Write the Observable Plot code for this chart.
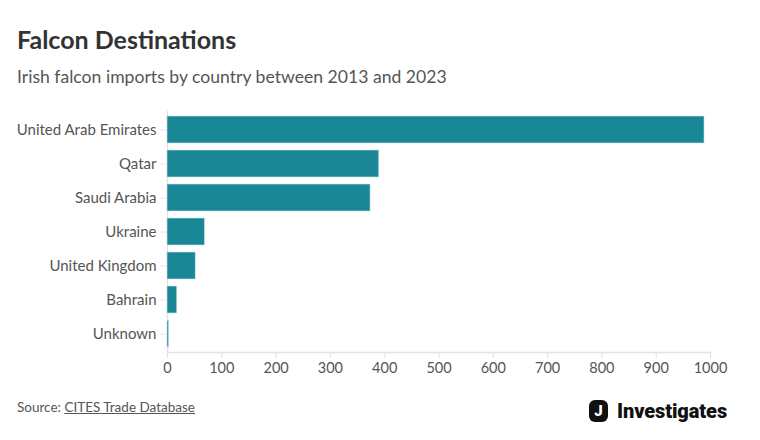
<!DOCTYPE html>
<html>
<head>
<meta charset="utf-8">
<script src="https://cdn.jsdelivr.net/npm/d3@7"></script>
<script src="https://cdn.jsdelivr.net/npm/@observablehq/plot@0.6"></script>
<style>
  html, body { margin: 0; padding: 0; background: #fff; }
  body { width: 760px; height: 440px; position: relative; overflow: hidden; font-family: Lato, "Noto Sans", sans-serif; }
  .title { position: absolute; left: 17px; top: 27px; font-size: 25px; line-height: 25px; font-weight: 700; color: #333; white-space: nowrap; }
  .subtitle { position: absolute; left: 17px; top: 68px; font-size: 17.6px; line-height: 17.6px; color: #555; white-space: nowrap; }
  #chart { position: absolute; left: 0; top: 95px; }
  .source { position: absolute; left: 17px; top: 401px; font-size: 13.5px; line-height: 13.5px; color: #555; white-space: nowrap; }
  .source a { color: #555; text-decoration: underline; }
  .logo { position: absolute; left: 589px; top: 400px; display: flex; align-items: center; white-space: nowrap; }
  .logo .j { width: 19px; height: 22px; background: #111; border-radius: 6px; color: #fff; font-family: Roboto, sans-serif; font-weight: 900; font-size: 15px; line-height: 22px; text-align: center; }
  .logo .t { margin-left: 9px; font-family: Roboto, sans-serif; font-weight: 900; font-size: 20px; line-height: 22px; color: #111; letter-spacing: -0.1px; }
</style>
</head>
<body>
<div class="title">Falcon Destinations</div>
<div class="subtitle">Irish falcon imports by country between 2013 and 2023</div>
<div id="chart"></div>
<div class="source">Source: <a>CITES Trade Database</a></div>
<div class="logo"><div class="j">J</div><div class="t">Investigates</div></div>
<script>
const countries = ["United Arab Emirates", "Qatar", "Saudi Arabia", "Ukraine", "United Kingdom", "Bahrain", "Unknown"];
const imports = [989, 390, 374, 69, 52, 18, 3];
const xTicks = [0, 100, 200, 300, 400, 500, 600, 700, 800, 900, 1000];

const data = countries.map((c, i) => ({country: c, value: imports[i]}));

const chart = Plot.plot({
  width: 760,
  height: 285,
  marginLeft: 167,
  marginRight: 50,
  marginTop: 16,
  marginBottom: 28,
  style: {fontFamily: "Lato, 'Noto Sans', sans-serif", fontSize: "15px", color: "#555", background: "transparent"},
  x: {domain: [0, 1000], label: null},
  y: {domain: countries, paddingInner: 0.2, paddingOuter: 0.1, label: null},
  marks: [
    Plot.ruleX([0], {stroke: "#e2e2e2", strokeWidth: 1.5}),
    Plot.frame({anchor: "bottom", stroke: "#e2e2e2", strokeWidth: 1.5}),
    Plot.barX(data, {x: "value", y: "country", fill: "#1a8796", stroke: "#cfe8ec", strokeWidth: 0.6}),
    Plot.axisX({ticks: xTicks, tickFormat: d3.format("d"), tickSize: 6, stroke: "#e2e2e2", color: "#555", tickPadding: 4, fontSize: 14.5, label: null}),
    Plot.axisY({tickSize: 7, stroke: "#e2e2e2", color: "#555", tickPadding: 4, fontSize: 15, label: null})
  ]
});
document.getElementById("chart").appendChild(chart);
</script>
</body>
</html>
